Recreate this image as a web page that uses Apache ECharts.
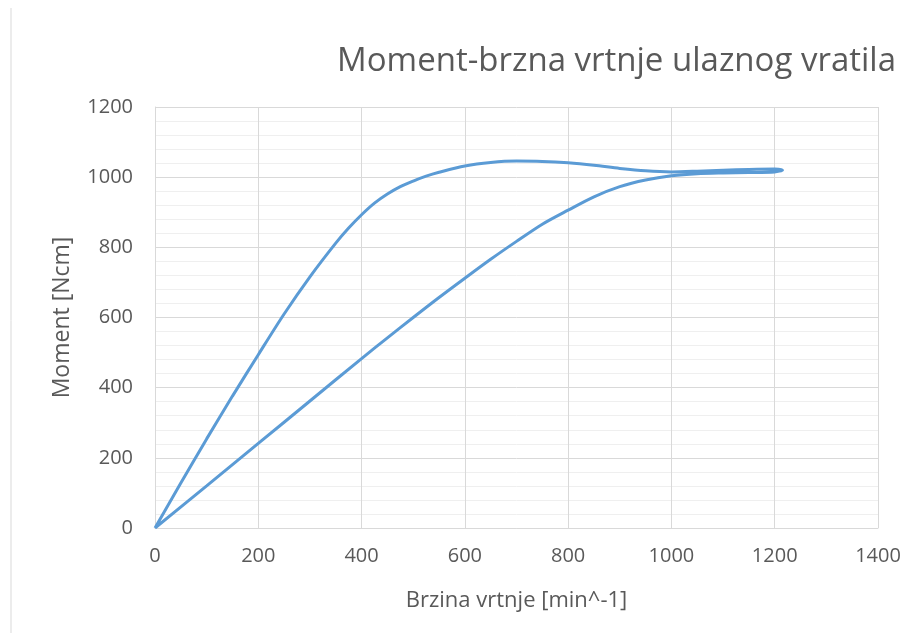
<!DOCTYPE html>
<html>
<head>
<meta charset="utf-8">
<script src="https://cdn.jsdelivr.net/npm/echarts@6/dist/echarts.min.js"></script>
<style>
  html, body { margin: 0; padding: 0; background: #fff; }
  #chart-container { width: 921px; height: 633px; }
</style>
</head>
<body>
<div id="chart-container"></div>
<script>
// brzina vrtnje [min^-1] - krivulja ide od 0 do ~1215 (gornja grana) pa natrag (donja grana)
var speed = [0, 50, 100, 150, 200, 250, 300, 350, 375, 400, 425, 450, 475, 500, 525, 550, 600, 650, 700, 750, 800, 850, 900, 950, 1000, 1050, 1100, 1150, 1200, 1215,
             1200, 1150, 1100, 1050, 1000, 950, 900, 850, 800, 750, 700, 650, 600, 550, 500, 450, 400, 300, 200, 100, 0];
// moment [Ncm]
var moment = [0, 128, 254, 376, 494, 610, 716, 812, 855, 893, 926, 952, 973, 989, 1003, 1014, 1032, 1042, 1046, 1045, 1041, 1034, 1025, 1018, 1015, 1017, 1020, 1022, 1023, 1020,
              1015, 1013, 1012, 1010, 1004, 992, 973, 944, 906, 866, 817, 766, 712, 657, 600, 542, 483, 362, 241, 120, 0];

var xTicks = [0, 200, 400, 600, 800, 1000, 1200, 1400];
var yTicks = [0, 200, 400, 600, 800, 1000, 1200];

var myChart = echarts.init(document.getElementById('chart-container'));

var textColor = '#595959';
var font = 'Open Sans';

var option = {
    animation: false,
    title: {
        text: 'Moment-brzna vrtnje ulaznog vratila',
        right: 20,
        top: 40,
        textStyle: { color: textColor, fontFamily: font, fontWeight: 'normal', fontSize: 33 }
    },
    graphic: [{
        type: 'line',
        shape: { x1: 11, y1: 8, x2: 11, y2: 633 },
        style: { stroke: '#d9d9d9', lineWidth: 1 }
    }],
    grid: { left: 155, right: 43, top: 107, bottom: 105 },
    xAxis: {
        type: 'value',
        min: xTicks[0],
        max: xTicks[xTicks.length - 1],
        interval: 200,
        name: 'Brzina vrtnje [min^-1]',
        nameLocation: 'middle',
        nameGap: 62,
        nameTextStyle: { color: textColor, fontFamily: font, fontSize: 22 },
        axisLine: { lineStyle: { color: '#d9d9d9' } },
        axisTick: { show: false },
        axisLabel: { color: textColor, fontFamily: font, fontSize: 20, margin: 18, formatter: v => String(v) },
        splitLine: { lineStyle: { color: '#d9d9d9' } }
    },
    yAxis: {
        type: 'value',
        min: yTicks[0],
        max: yTicks[yTicks.length - 1],
        interval: 200,
        name: 'Moment [Ncm]',
        nameLocation: 'middle',
        nameGap: 81,
        nameTextStyle: { color: textColor, fontFamily: font, fontSize: 23 },
        axisLine: { show: true, lineStyle: { color: '#d9d9d9' } },
        axisTick: { show: false },
        axisLabel: { color: textColor, fontFamily: font, fontSize: 20, margin: 22, formatter: v => String(v) },
        splitLine: { lineStyle: { color: '#d9d9d9' } },
        minorTick: { show: false, splitNumber: 5 },
        minorSplitLine: { show: true, lineStyle: { color: '#efefef' } }
    },
    series: [{
        type: 'line',
        data: speed.map((s, i) => [s, moment[i]]),
        smooth: 0.3,
        showSymbol: false,
        lineStyle: { color: '#5b9bd5', width: 3 }
    }]
};

myChart.setOption(option);
</script>
</body>
</html>
